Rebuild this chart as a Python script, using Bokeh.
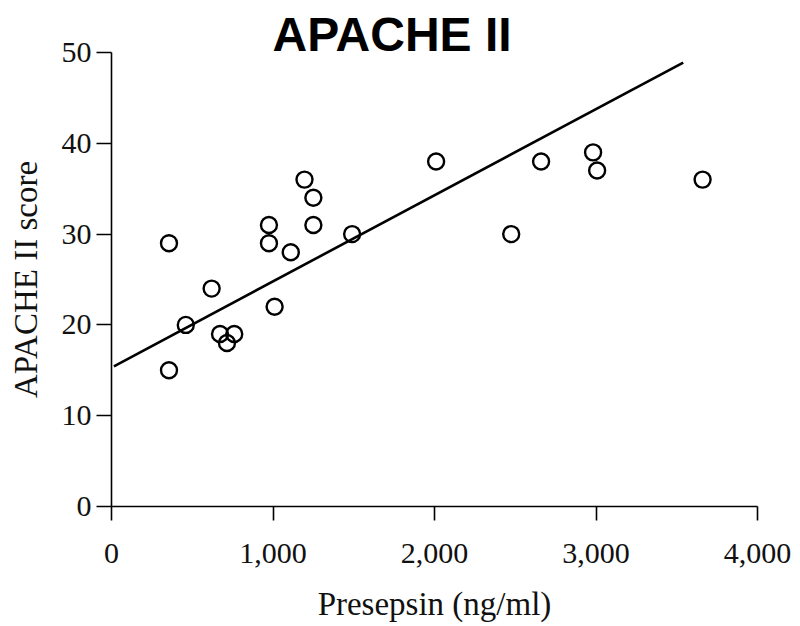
from bokeh.plotting import figure
from bokeh.models import Range1d, FixedTicker, CustomJSTickFormatter
from bokeh.embed import file_html
from bokeh.resources import INLINE

# Data
presepsin = [356, 356, 460, 620, 672, 760, 715, 975, 975, 1010, 1110, 1195,
             1250, 1250, 1490, 2010, 2475, 2660, 2982, 3007, 3660]
apache = [29, 15, 20, 24, 19, 19, 18, 31, 29, 22, 28, 36,
          34, 31, 30, 38, 30, 38, 39, 37, 36]

# Regression line (intercept, slope, x extent)
fit_intercept = 15.3
fit_slope = 0.00949
fit_x = [15, 3540]
fit_y = [fit_intercept + fit_slope * v for v in fit_x]

x_ticks = [0, 1000, 2000, 3000, 4000]
y_ticks = [0, 10, 20, 30, 40, 50]

SERIF = "Liberation Serif"

p = figure(width=800, height=626, output_backend="svg", toolbar_location=None,
           x_range=Range1d(0, 4000), y_range=Range1d(0, 50),
           min_border_left=111, min_border_right=43,
           min_border_top=52, min_border_bottom=120)

p.title.text = "APACHE II"
p.title.align = "left"
p.title.offset = 161
p.title.standoff = -16
p.title.text_font = "Liberation Sans"
p.title.text_font_style = "bold"
p.title.text_font_size = "48px"
p.title.text_color = "black"

p.xgrid.visible = False
p.ygrid.visible = False
p.outline_line_color = None
p.background_fill_color = "white"
p.border_fill_color = "white"

p.line(fit_x, fit_y, line_color="black", line_width=2.6)
p.scatter(presepsin, apache, marker="circle", size=16, fill_color="white",
          fill_alpha=0, line_color="black", line_width=2.4)

xa = p.xaxis[0]
xa.ticker = FixedTicker(ticks=x_ticks)
xa.formatter = CustomJSTickFormatter(code="return tick.toLocaleString('en-US');")
xa.axis_label = "Presepsin (ng/ml)"
ya = p.yaxis[0]
ya.ticker = FixedTicker(ticks=y_ticks)
ya.axis_label = "APACHE II score"

for ax in (xa, ya):
    ax.axis_line_color = "black"
    ax.axis_line_width = 1.6
    ax.major_tick_line_color = "black"
    ax.major_tick_line_width = 1.6
    ax.major_tick_in = 0
    ax.minor_tick_line_color = None
    ax.major_label_text_font = SERIF
    ax.major_label_text_font_size = "30px"
    ax.major_label_text_color = "#111111"
    ax.axis_label_text_font = SERIF
    ax.axis_label_text_font_size = "33px"
    ax.axis_label_text_font_style = "normal"
    ax.axis_label_text_color = "#111111"

xa.major_tick_out = 14
xa.major_label_standoff = 23
xa.axis_label_standoff = 20
ya.major_tick_out = 15
ya.major_label_standoff = 5
ya.axis_label_standoff = 15

open("out.html", "w").write(file_html(p, INLINE))
